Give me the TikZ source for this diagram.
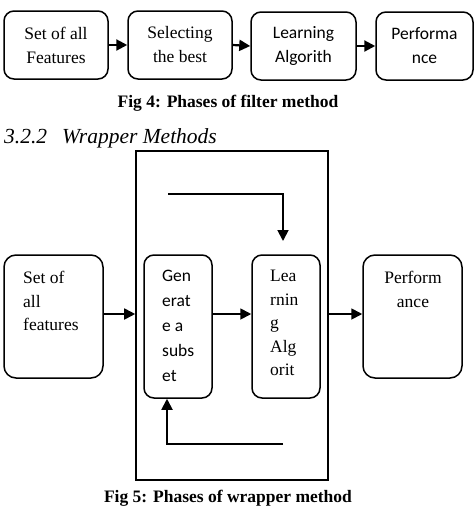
\documentclass[tikz,border=0pt]{standalone}
\usepackage{fontspec}
\setmainfont{Liberation Serif}
\newfontfamily\calibri{Carlito}
\usetikzlibrary{arrows.meta}
\begin{document}
\begin{tikzpicture}[x=1pt,y=-1pt,
 box/.style={draw, line width=1.5pt, rounded corners=10pt, inner sep=0pt},
 bigbox/.style={draw, line width=1.6pt, inner sep=0pt},
 arr/.style={line width=2.2pt, -{Triangle[length=11pt,width=11pt]}},
 warr/.style={line width=1.8pt, -{Triangle[length=11pt,width=11pt]}},
 seriftxt/.style={font=\fontsize{17.5}{23.5}\selectfont, inner sep=0pt},
 gentxt/.style={font=\calibri\fontsize{17.5}{25}\selectfont, inner sep=0pt},
 captxt/.style={font=\fontsize{17.5}{21}\selectfont\bfseries, inner sep=0pt},
]
\useasboundingbox (0,0) rectangle (475,507);
% Fig 4
\node[box, minimum width=104pt, minimum height=68pt, align=center, font=\fontsize{17.5}{24}\selectfont] (b1) at (56,45) {Set of all\\Features};
\node[box, minimum width=104pt, minimum height=68pt, align=center, font=\fontsize{17.5}{24}\selectfont] (b2) at (180,45) {Selecting\\the best};
\node[box, minimum width=105pt, minimum height=68pt, align=center, font=\calibri\fontsize{17.5}{24}\selectfont] (b3) at (303.5,46) {Learning\\Algorith};
\node[box, minimum width=97pt, minimum height=68pt, align=center, font=\calibri\fontsize{17.5}{24}\selectfont] (b4) at (424.5,46) {Performa\\nce};
\draw[arr] (b1.east) -- (b2.west);
\draw[arr] (b2.east) -- (b3.west);
\draw[arr] (b3.east) -- (b4.west);
\node[captxt] (cap4) at (228,103) {Fig 4: Phases of filter method};
% heading
\node[anchor=base west, inner sep=0pt, font=\fontsize{21.5}{26}\selectfont\itshape] (head) at (4,143) {3.2.2\hspace{15pt}Wrapper Methods};
% Fig 5
\node[bigbox, minimum width=192pt, minimum height=329pt] (W) at (232,315.5) {};
\node[box, rounded corners=12pt, minimum width=99pt, minimum height=123pt] (S) at (53.5,316.5) {};
\node[box, rounded corners=10pt, minimum width=68pt, minimum height=143pt] (G) at (178,326.5) {};
\node[box, rounded corners=10pt, minimum width=68pt, minimum height=143pt] (L) at (286,326.5) {};
\node[box, rounded corners=12pt, minimum width=99pt, minimum height=123pt] (P) at (412.5,316.5) {};
\node[seriftxt, anchor=north west, align=left] (St) at (23,271) {Set of\\all\\features};
\node[gentxt, anchor=north west, align=left] (Gt) at (162,270) {Gen\\erat\\e a\\subs\\et};
\node[seriftxt, anchor=north west, align=left] (Lt) at (270,270) {Lea\\rnin\\g\\Alg\\orit};
\node[seriftxt, anchor=north, align=center] (Pt) at (413,271) {Perform\\ance};
\coordinate (ay) at (0,314);
\draw[warr] (S.east |- ay) -- (W.west |- ay);
\draw[warr] (G.east |- ay) -- (L.west |- ay);
\draw[warr] (W.east |- ay) -- (P.west |- ay);
\coordinate (t1) at (168,194);
\coordinate (t2) at (283,194);
\coordinate (t3) at (283,241);
\draw[warr] (t1) -- (t2) -- (t3);
\coordinate (u1) at (283,444);
\coordinate (u2) at (167,444);
\draw[warr] (u1) -- (u2) -- (u2 |- G.south);
\node[captxt, anchor=base] (cap5) at (228,502) {Fig 5: Phases of wrapper method};
\end{tikzpicture}
\end{document}
